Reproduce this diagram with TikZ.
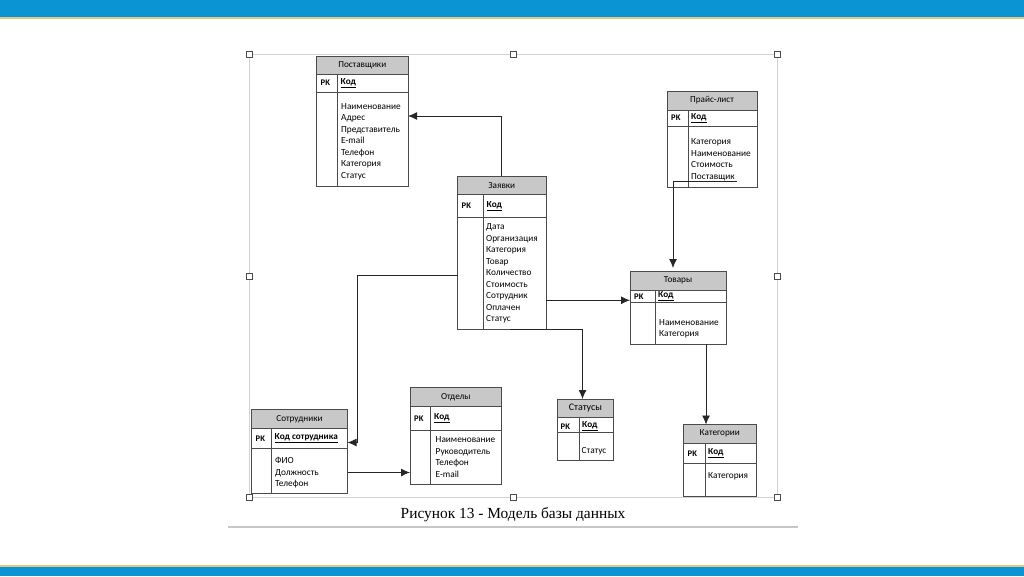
\documentclass[tikz,border=0pt]{standalone}
\usepackage{fontspec}
\setmainfont{Liberation Serif}
\newfontfamily\calibri{Carlito}
\usetikzlibrary{arrows.meta, positioning, calc}
\definecolor{barblue}{RGB}{10,148,212}
\definecolor{baryel}{RGB}{226,200,128}
\definecolor{hdrgray}{RGB}{200,200,200}
\definecolor{linegray}{RGB}{75,75,75}
\definecolor{framegray}{RGB}{210,210,210}
\tikzset{
  tbl/.style={draw=linegray, line width=0.9pt, inner sep=0pt, outer sep=0pt, anchor=north west},
  hdr/.style={tbl, fill=hdrgray, font=\calibri\fontsize{9.2}{11}\selectfont},
  pkcell/.style={inner sep=0pt, anchor=west, font=\calibri\bfseries\fontsize{8.6}{10}\selectfont},
  keycell/.style={inner sep=0pt, anchor=west, font=\calibri\bfseries\fontsize{9.2}{11}\selectfont},
  fields/.style={inner sep=0pt, anchor=north west, align=left, font=\calibri\fontsize{9.3}{11.5}\selectfont},
  divider/.style={draw=linegray, line width=0.9pt},
  conn/.style={-{Latex[length=9pt, width=8pt]}, line width=0.9pt, draw=black!85},
  handle/.style={draw=linegray, fill=white, line width=0.9pt}
}
\begin{document}
\begin{tikzpicture}[x=1pt, y=-1pt]
    \useasboundingbox (0,0) rectangle (1024,576);
    \fill[white] (0,0) rectangle (1024,576);

    % Blue bars at top and bottom
    \fill[barblue] (0,0) rectangle (1024,17);
    \fill[baryel] (0,17) rectangle (1024,19);
    \fill[baryel] (0,565) rectangle (1024,567);
    \fill[barblue] (0,567) rectangle (1024,576);

    % Selection frame with handles
    \draw[framegray, line width=0.9pt] (249,54) rectangle (777,497);
    \foreach \hx/\hy in {249/54, 513/54, 777/54, 249/276, 777/276, 249/497, 513/497, 777/497}
        \draw[handle] (\hx-3,\hy-3) rectangle (\hx+3,\hy+3);

    % Поставщики
    \node[hdr, minimum width=91.5, minimum height=18] (post) at (316.5,56) {Поставщики};
    \node[tbl, minimum width=91.5, minimum height=18] (post-pk) at (post.south west) {};
    \node[tbl, minimum width=91.5, minimum height=94] (post-body) at (post-pk.south west) {};
    \draw[divider] ([xshift=21]post-pk.north west) -- ([xshift=21]post-body.south west);
    \node[pkcell] at ([xshift=4]post-pk.west) {PK};
    \node[keycell] at ([xshift=24]post-pk.west) {\underline{Код}};
    \node[fields] at ([xshift=24.5, yshift=-11.2]post-body.north west) {Наименование\\Адрес\\Представитель\\E-mail\\Телефон\\Категория\\Статус};

    % Заявки
    \node[hdr, minimum width=88.5, minimum height=18.5] (zayav) at (457.5,176) {Заявки};
    \node[tbl, minimum width=88.5, minimum height=23] (zayav-pk) at (zayav.south west) {};
    \node[tbl, minimum width=88.5, minimum height=111.5] (zayav-body) at (zayav-pk.south west) {};
    \draw[divider] ([xshift=26]zayav-pk.north west) -- ([xshift=26]zayav-body.south west);
    \node[pkcell] at ([xshift=4]zayav-pk.west) {PK};
    \node[keycell] at ([xshift=29]zayav-pk.west) {\underline{Код}};
    \node[fields] at ([xshift=28.5, yshift=-6.3]zayav-body.north west) {Дата\\Организация\\Категория\\Товар\\Количество\\Стоимость\\Сотрудник\\Оплачен\\Статус};

    % Прайс-лист
    \node[hdr, minimum width=90, minimum height=19] (price) at (667,91) {Прайс-лист};
    \node[tbl, minimum width=90, minimum height=16] (price-pk) at (price.south west) {};
    \node[tbl, minimum width=90, minimum height=61] (price-body) at (price-pk.south west) {};
    \draw[divider] ([xshift=21]price-pk.north west) -- ([xshift=21]price-body.south west);
    \node[pkcell] at ([xshift=4]price-pk.west) {PK};
    \node[keycell] at ([xshift=24]price-pk.west) {\underline{Код}};
    \node[fields] at ([xshift=24, yshift=-12.8]price-body.north west) {Категория\\Наименование\\Стоимость\\Поставщик};

    % Товары
    \node[hdr, minimum width=96, minimum height=19] (tovary) at (630,271) {Товары};
    \node[tbl, minimum width=96, minimum height=12.5] (tovary-pk) at (tovary.south west) {};
    \node[tbl, minimum width=96, minimum height=41.5] (tovary-body) at (tovary-pk.south west) {};
    \draw[divider] ([xshift=25]tovary-pk.north west) -- ([xshift=25]tovary-body.south west);
    \node[pkcell] at ([xshift=4]tovary-pk.west) {PK};
    \node[keycell] at ([xshift=28]tovary-pk.west) {\underline{Код}};
    \node[fields] at ([xshift=29, yshift=-16.7]tovary-body.north west) {Наименование\\Категория};

    % Сотрудники
    \node[hdr, minimum width=96, minimum height=19] (sotr) at (251.5,409.5) {Сотрудники};
    \node[tbl, minimum width=96, minimum height=20] (sotr-pk) at (sotr.south west) {};
    \node[tbl, minimum width=96, minimum height=45] (sotr-body) at (sotr-pk.south west) {};
    \draw[divider] ([xshift=20]sotr-pk.north west) -- ([xshift=20]sotr-body.south west);
    \node[pkcell] at ([xshift=4]sotr-pk.west) {PK};
    \node[keycell] at ([xshift=23]sotr-pk.west) {\underline{Код сотрудника}};
    \node[fields] at ([xshift=23.5, yshift=-9]sotr-body.north west) {ФИО\\Должность\\Телефон};

    % Отделы
    \node[hdr, minimum width=91.5, minimum height=19] (otdely) at (410,387.5) {Отделы};
    \node[tbl, minimum width=91.5, minimum height=24] (otdely-pk) at (otdely.south west) {};
    \node[tbl, minimum width=91.5, minimum height=53.5] (otdely-body) at (otdely-pk.south west) {};
    \draw[divider] ([xshift=20.5]otdely-pk.north west) -- ([xshift=20.5]otdely-body.south west);
    \node[pkcell] at ([xshift=4]otdely-pk.west) {PK};
    \node[keycell] at ([xshift=24]otdely-pk.west) {\underline{Код}};
    \node[fields] at ([xshift=25.5, yshift=-6]otdely-body.north west) {Наименование\\Руководитель\\Телефон\\E-mail};

    % Статусы
    \node[hdr, minimum width=56, minimum height=18.5, font=\calibri\fontsize{10}{12}\selectfont] (statusy) at (557.5,399) {Статусы};
    \node[tbl, minimum width=56, minimum height=14.5] (statusy-pk) at (statusy.south west) {};
    \node[tbl, minimum width=56, minimum height=28] (statusy-body) at (statusy-pk.south west) {};
    \draw[divider] ([xshift=21.5]statusy-pk.north west) -- ([xshift=21.5]statusy-body.south west);
    \node[pkcell] at ([xshift=3, yshift=-1.5]statusy-pk.west) {PK};
    \node[keycell] at ([xshift=24.5, yshift=-1.5]statusy-pk.west) {\underline{Код}};
    \node[fields] at ([xshift=24, yshift=-15.2]statusy-body.north west) {Статус};

    % Категории
    \node[hdr, minimum width=72.5, minimum height=18.5] (kateg) at (683.5,424.5) {Категории};
    \node[tbl, minimum width=72.5, minimum height=20.5] (kateg-pk) at (kateg.south west) {};
    \node[tbl, minimum width=72.5, minimum height=32.5] (kateg-body) at (kateg-pk.south west) {};
    \draw[divider] ([xshift=21.5]kateg-pk.north west) -- ([xshift=21.5]kateg-body.south west);
    \node[pkcell] at ([xshift=4]kateg-pk.west) {PK};
    \node[keycell] at ([xshift=24.5]kateg-pk.west) {\underline{Код}};
    \node[fields] at ([xshift=24.5, yshift=-9]kateg-body.north west) {Категория};

    % Arrow: Заявки to Поставщики
    \draw[conn] (zayav.north) |- ([yshift=-24]post-body.north east);

    % Arrow: Заявки to Сотрудники
    \draw[conn] ([yshift=-57.5]zayav-body.north west) -- ++(-100.5,0) |- ([yshift=-4]sotr-pk.east);

    % Arrow: Заявки to Товары
    \coordinate (tv-in) at ([yshift=-4]tovary-pk.west);
    \draw[conn] (tv-in -| zayav-body.east) -- (tv-in);

    % Arrow: Заявки to Статусы
    \draw[conn] ([xshift=8]zayav-body.south) -| ([xshift=-3]statusy.north);

    % Arrow: Прайс-лист to Товары
    \draw[conn, shorten >=3pt] ([xshift=-20, yshift=6]price-body.south east) -| ([xshift=-5]tovary.north);

    % Arrow: Товары to Категории
    \coordinate (kt-out) at ([xshift=28]tovary-body.south);
    \draw[conn] (kt-out) -- (kt-out |- kateg.north);

    % Arrow: Сотрудники to Отделы
    \coordinate (ot-out) at ([yshift=-1.5]sotr-body.east);
    \draw[conn] (ot-out) -- (ot-out -| otdely-body.west);

    % Caption
    \node[font=\fontsize{15.4}{18}\selectfont] (caption) at (513,515) {Рисунок 13 - Модель базы данных};
    \draw[black!22, line width=1.6pt] (228,527) -- (798,527);
\end{tikzpicture}
\end{document}
